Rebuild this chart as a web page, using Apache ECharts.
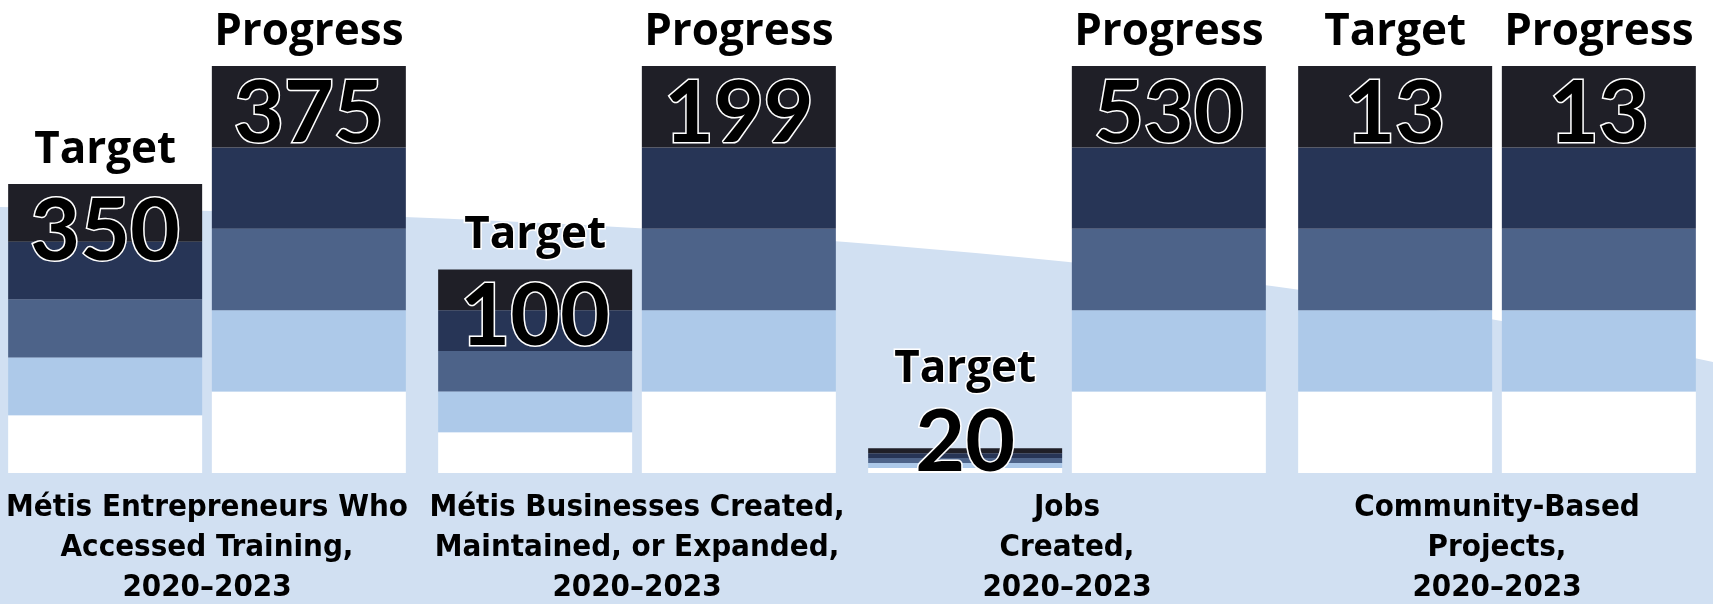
<!DOCTYPE html>
<html>
<head>
<meta charset="utf-8">
<script src="https://cdn.jsdelivr.net/npm/echarts@6/dist/echarts.min.js"></script>
<style>
body { margin: 0; padding: 0; background: #fff; overflow: hidden; width: 1713px; height: 604px; position: relative; }
/* shifted 8px left so the first category band starts off-canvas like the original */
#chart { position: absolute; left: -8px; top: 0; width: 1721px; height: 604px; }
</style>
</head>
<body>
<div id="chart"></div>
<script>
// categories and values
const groups = [
  'Métis Entrepreneurs Who\nAccessed Training,\n2020–2023',
  'Métis Businesses Created,\nMaintained, or Expanded,\n2020–2023',
  'Jobs\nCreated,\n2020–2023',
  'Community-Based\nProjects,\n2020–2023'
]
const targetValues = [350, 100, 20, 13]
const progressValues = [375, 199, 530, 13]
// drawn bar heights, % of the progress bar
const targetHeights = [71, 50, 6.1, 100]
const progressHeights = [100, 100, 100, 100]

// bottom -> top bands
const bandColors = ['#ffffff', '#adc9e9', '#4d6389', '#273556', '#1f1f27']

const numLabel = {
  show: true,
  position: 'insideTop',
  distance: 5,
  fontFamily: "Lato, 'Open Sans', sans-serif",
  fontWeight: 'bold',
  fontSize: 86,
  lineHeight: 86,
  color: '#000',
  textBorderColor: '#fff',
  textBorderWidth: 3
}
const headLabel = {
  show: true,
  position: 'top',
  distance: 12,
  fontFamily: "'Open Sans', Lato, sans-serif",
  fontWeight: 'bold',
  fontSize: 44,
  lineHeight: 44,
  color: '#000',
  textBorderColor: '#fff',
  textBorderWidth: 3
}

const series = []
bandColors.forEach((c, b) => {
  const last = b === bandColors.length - 1
  series.push({
    name: 'Target', type: 'bar', stack: 't', barWidth: 194, barGap: '5%',
    itemStyle: { color: c },
    label: last ? { ...numLabel, formatter: p => targetValues[p.dataIndex] } : { show: false },
    data: targetHeights.map((v, i) => {
      // the jobs target bar is too thin, so its number sits above it
      if (last && i === 2) return { value: v / 5, label: { offset: [0, -53] } }
      return v / 5
    })
  })
  series.push({
    name: 'Progress', type: 'bar', stack: 'p', barWidth: 194, barGap: '5%',
    itemStyle: { color: c },
    label: last ? { ...numLabel, formatter: p => progressValues[p.dataIndex] } : { show: false },
    data: progressHeights.map(v => v / 5)
  })
})
// header caps
series.push({
  name: 'Target', type: 'bar', stack: 't', barWidth: 194, barGap: '5%',
  label: { ...headLabel, formatter: 'Target' },
  data: targetHeights.map((v, i) => i === 2 ? { value: 0, label: { distance: 57 } } : 0)
})
series.push({
  name: 'Progress', type: 'bar', stack: 'p', barWidth: 194, barGap: '5%',
  label: { ...headLabel, formatter: 'Progress' },
  data: progressHeights.map(() => 0)
})

// background swoosh outline (cubic curve sampled into a polygon)
const wave = []
for (let k = 0; k <= 40; k++) {
  const t = k / 40, u = 1 - t
  const x = 3 * u * u * t * 600 + 3 * u * t * t * 1200 + t * t * t * 1713
  const y = u * u * u * 207 + 3 * u * u * t * 215 + 3 * u * t * t * 250 + t * t * t * 362
  wave.push([x + 8, y])
}
wave.push([1721, 604], [0, 604], [0, 207])

const chart = echarts.init(document.getElementById('chart'))
chart.setOption({
  animation: false,
  backgroundColor: '#fff',
  graphic: [{
    type: 'polygon',
    z: -10,
    silent: true,
    shape: { points: wave },
    style: { fill: '#d1e0f2' }
  }],
  grid: { left: 0, right: 1, top: 66, bottom: 131, outerBoundsMode: 'none', containLabel: false },
  xAxis: {
    type: 'category',
    data: groups,
    axisLine: { show: false },
    axisTick: { show: false },
    axisLabel: {
      margin: 15,
      interval: 0,
      fontFamily: "'DejaVu Sans Condensed', 'DejaVu Sans', sans-serif",
      fontWeight: 'bold',
      fontSize: 31,
      lineHeight: 40,
      color: '#000'
    }
  },
  yAxis: { type: 'value', min: 0, max: 100, show: false },
  series: series
})
</script>
</body>
</html>
